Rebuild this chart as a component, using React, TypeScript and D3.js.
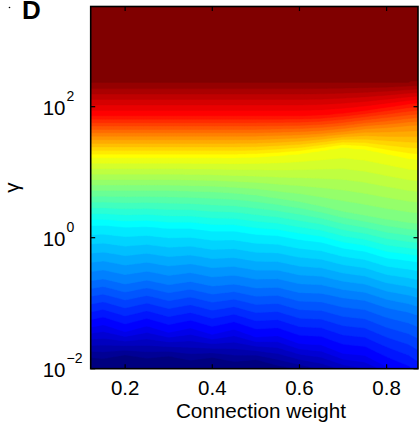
import React, { useMemo } from "react";
import * as d3 from "d3";

// Connection weight sample columns
const X_COLS = [0.10, 0.15, 0.20, 0.25, 0.30, 0.35, 0.40, 0.45, 0.50, 0.55, 0.60, 0.65, 0.70, 0.75, 0.80, 0.85, 0.90];
// colour-map levels (normalised value) and the log10(gamma) at which each level occurs per column
const LEVELS = [0, 0.125, 0.25, 0.375, 0.5, 0.625, 0.75, 0.875, 1];
const L0 = [-1.90, -1.95, -1.86, -1.94, -1.88, -1.97, -1.90, -1.99, -1.93, -2.04, -2.10, -2.20, -2.28, -2.40, -2.48, -2.70, -2.90];
const L1 = [-1.40, -1.33, -1.44, -1.35, -1.45, -1.38, -1.48, -1.40, -1.52, -1.50, -1.62, -1.64, -1.77, -1.80, -1.97, -2.12, -2.40];
const L2 = [-0.68, -0.63, -0.71, -0.65, -0.72, -0.67, -0.74, -0.71, -0.77, -0.76, -0.84, -0.85, -0.92, -0.96, -1.07, -1.14, -1.25];
const L3 = [0.18, 0.19, 0.16, 0.17, 0.14, 0.14, 0.10, 0.10, 0.05, 0.03, -0.03, -0.07, -0.16, -0.21, -0.31, -0.35, -0.40];
const L4 = [0.72, 0.72, 0.72, 0.72, 0.72, 0.71, 0.70, 0.68, 0.65, 0.60, 0.55, 0.48, 0.40, 0.34, 0.28, 0.23, 0.20];
const L5 = [1.22, 1.22, 1.22, 1.22, 1.22, 1.22, 1.22, 1.22, 1.23, 1.25, 1.28, 1.33, 1.38, 1.35, 1.28, 1.21, 1.17];
const L6 = [1.55, 1.55, 1.55, 1.55, 1.55, 1.55, 1.55, 1.55, 1.55, 1.56, 1.57, 1.59, 1.62, 1.66, 1.68, 1.71, 1.73];
const L7 = [1.86, 1.86, 1.86, 1.86, 1.86, 1.86, 1.86, 1.86, 1.86, 1.86, 1.86, 1.87, 1.90, 1.94, 1.99, 2.04, 2.08];
const L8 = [2.36, 2.36, 2.36, 2.36, 2.36, 2.36, 2.36, 2.36, 2.36, 2.36, 2.36, 2.36, 2.36, 2.36, 2.36, 2.37, 2.38];
const LEVEL_ROWS = [L0, L1, L2, L3, L4, L5, L6, L7, L8];

const X_TICKS = [0.2, 0.4, 0.6, 0.8];
const Y_TICK_EXP = [-2, 0, 2];
const X_DOMAIN = [0.121, 0.872];
const Y_DOMAIN = [1e-2, Math.pow(10, 3.53)];

const W = 419, H = 430;
const M = { left: 90.7, right: 418, top: 6.5, bottom: 368.7 };

const clamp = (v: number) => Math.max(0, Math.min(1, v));
function jet(v: number) {
  const r = clamp(1.5 - Math.abs(4 * v - 3));
  const g = clamp(1.5 - Math.abs(4 * v - 2));
  const b = clamp(1.5 - Math.abs(4 * v - 1));
  return d3.rgb(r * 255, g * 255, b * 255).toString();
}

function valueAt(x: number, ly: number) {
  const i = Math.max(0, Math.min(X_COLS.length - 2, d3.bisectRight(X_COLS, x) - 1));
  const t = (x - X_COLS[i]) / (X_COLS[i + 1] - X_COLS[i]);
  const pos = LEVEL_ROWS.map((row) => row[i] + (row[i + 1] - row[i]) * t);
  if (ly <= pos[0]) return 0;
  if (ly >= pos[pos.length - 1]) return 1;
  for (let k = 0; k < pos.length - 1; k++) {
    if (ly >= pos[k] && ly <= pos[k + 1]) {
      const f = (ly - pos[k]) / (pos[k + 1] - pos[k]);
      return LEVELS[k] + (LEVELS[k + 1] - LEVELS[k]) * f;
    }
  }
  return 0;
}

export default function App() {
  const xScale = d3.scaleLinear().domain(X_DOMAIN).range([M.left, M.right]);
  const yScale = d3.scaleLog().domain(Y_DOMAIN).range([M.bottom, M.top]);

  const bands = useMemo(() => {
    const nx = 120, ny = 260;
    const lyTop = Math.log10(Y_DOMAIN[1]), lyBot = Math.log10(Y_DOMAIN[0]);
    const vals = new Array(nx * ny);
    for (let j = 0; j < ny; j++) {
      const ly = lyTop - ((j + 0.5) / ny) * (lyTop - lyBot);
      for (let i = 0; i < nx; i++) {
        const x = X_DOMAIN[0] + ((i + 0.5) / nx) * (X_DOMAIN[1] - X_DOMAIN[0]);
        vals[i + j * nx] = valueAt(x, ly);
      }
    }
    const thresholds = d3.range(0, 1.0001, 1 / 48);
    const contours = d3.contours().size([nx, ny]).thresholds(thresholds)(vals);
    const sx = (M.right - M.left) / nx, sy = (M.bottom - M.top) / ny;
    const proj = d3.geoTransform({
      point(px: number, py: number) {
        (this as any).stream.point(M.left + px * sx, M.top + py * sy);
      },
    });
    const path = d3.geoPath(proj as any);
    return contours.map((c) => ({ d: path(c as any) || "", fill: jet(c.value) }));
  }, []);

  const font = "'Liberation Sans', Arial, Helvetica, sans-serif";
  const tick = 4.5;

  return (
    <svg width={W} height={H} style={{ display: "block", position: "absolute", left: 0, top: 0 }}>
      <defs>
        <clipPath id="plotclip">
          <rect x={M.left} y={M.top} width={M.right - M.left} height={M.bottom - M.top} />
        </clipPath>
      </defs>
      <rect x={0} y={0} width={W} height={H} fill="#fff" />
      <g clipPath="url(#plotclip)">
        <rect x={M.left} y={M.top} width={M.right - M.left} height={M.bottom - M.top} fill={jet(0)} />
        {bands.map((b, i) => (
          <path key={i} d={b.d} fill={b.fill} stroke={b.fill} strokeWidth={0.4} />
        ))}
      </g>
      <rect x={M.left} y={M.top} width={M.right - M.left} height={M.bottom - M.top} fill="none" stroke="#000" strokeWidth={1.6} />
      {X_TICKS.map((t) => (
        <g key={"x" + t}>
          <line x1={xScale(t)} x2={xScale(t)} y1={M.bottom} y2={M.bottom - tick} stroke="#000" strokeWidth={1.2} />
          <line x1={xScale(t)} x2={xScale(t)} y1={M.top} y2={M.top + tick} stroke="#000" strokeWidth={1.2} />
          <text x={xScale(t)} y={394.5} textAnchor="middle" fontFamily={font} fontSize={20.5} fill="#000">
            {t.toFixed(1)}
          </text>
        </g>
      ))}
      {Y_TICK_EXP.map((e) => {
        const y = yScale(Math.pow(10, e));
        return (
          <g key={"y" + e}>
            <line x1={M.left} x2={M.left + tick} y1={y} y2={y} stroke="#000" strokeWidth={1.2} />
            <line x1={M.right} x2={M.right - tick} y1={y} y2={y} stroke="#000" strokeWidth={1.2} />
            <text x={65.5} y={y + 8} textAnchor="end" fontFamily={font} fontSize={20.5} fill="#000">10</text>
            <text x={66.5} y={y - 6} textAnchor="start" fontFamily={font} fontSize={14} fill="#000">
              {e < 0 ? "\u2212" + Math.abs(e) : String(e)}
            </text>
          </g>
        );
      })}
      <text x={261} y={417.5} textAnchor="middle" fontFamily={font} fontSize={20.7} fill="#000">Connection weight</text>
      <text transform={`translate(18.6, ${(M.top + M.bottom) / 2}) rotate(-90)`} textAnchor="middle" fontFamily={font} fontSize={20.5} fill="#000">γ</text>
      <text x={22} y={18.6} fontFamily={font} fontSize={26} fontWeight="bold" fill="#000">D</text>
      <circle cx={9.5} cy={7.5} r={0.8} fill="#000" />
    </svg>
  );
}
